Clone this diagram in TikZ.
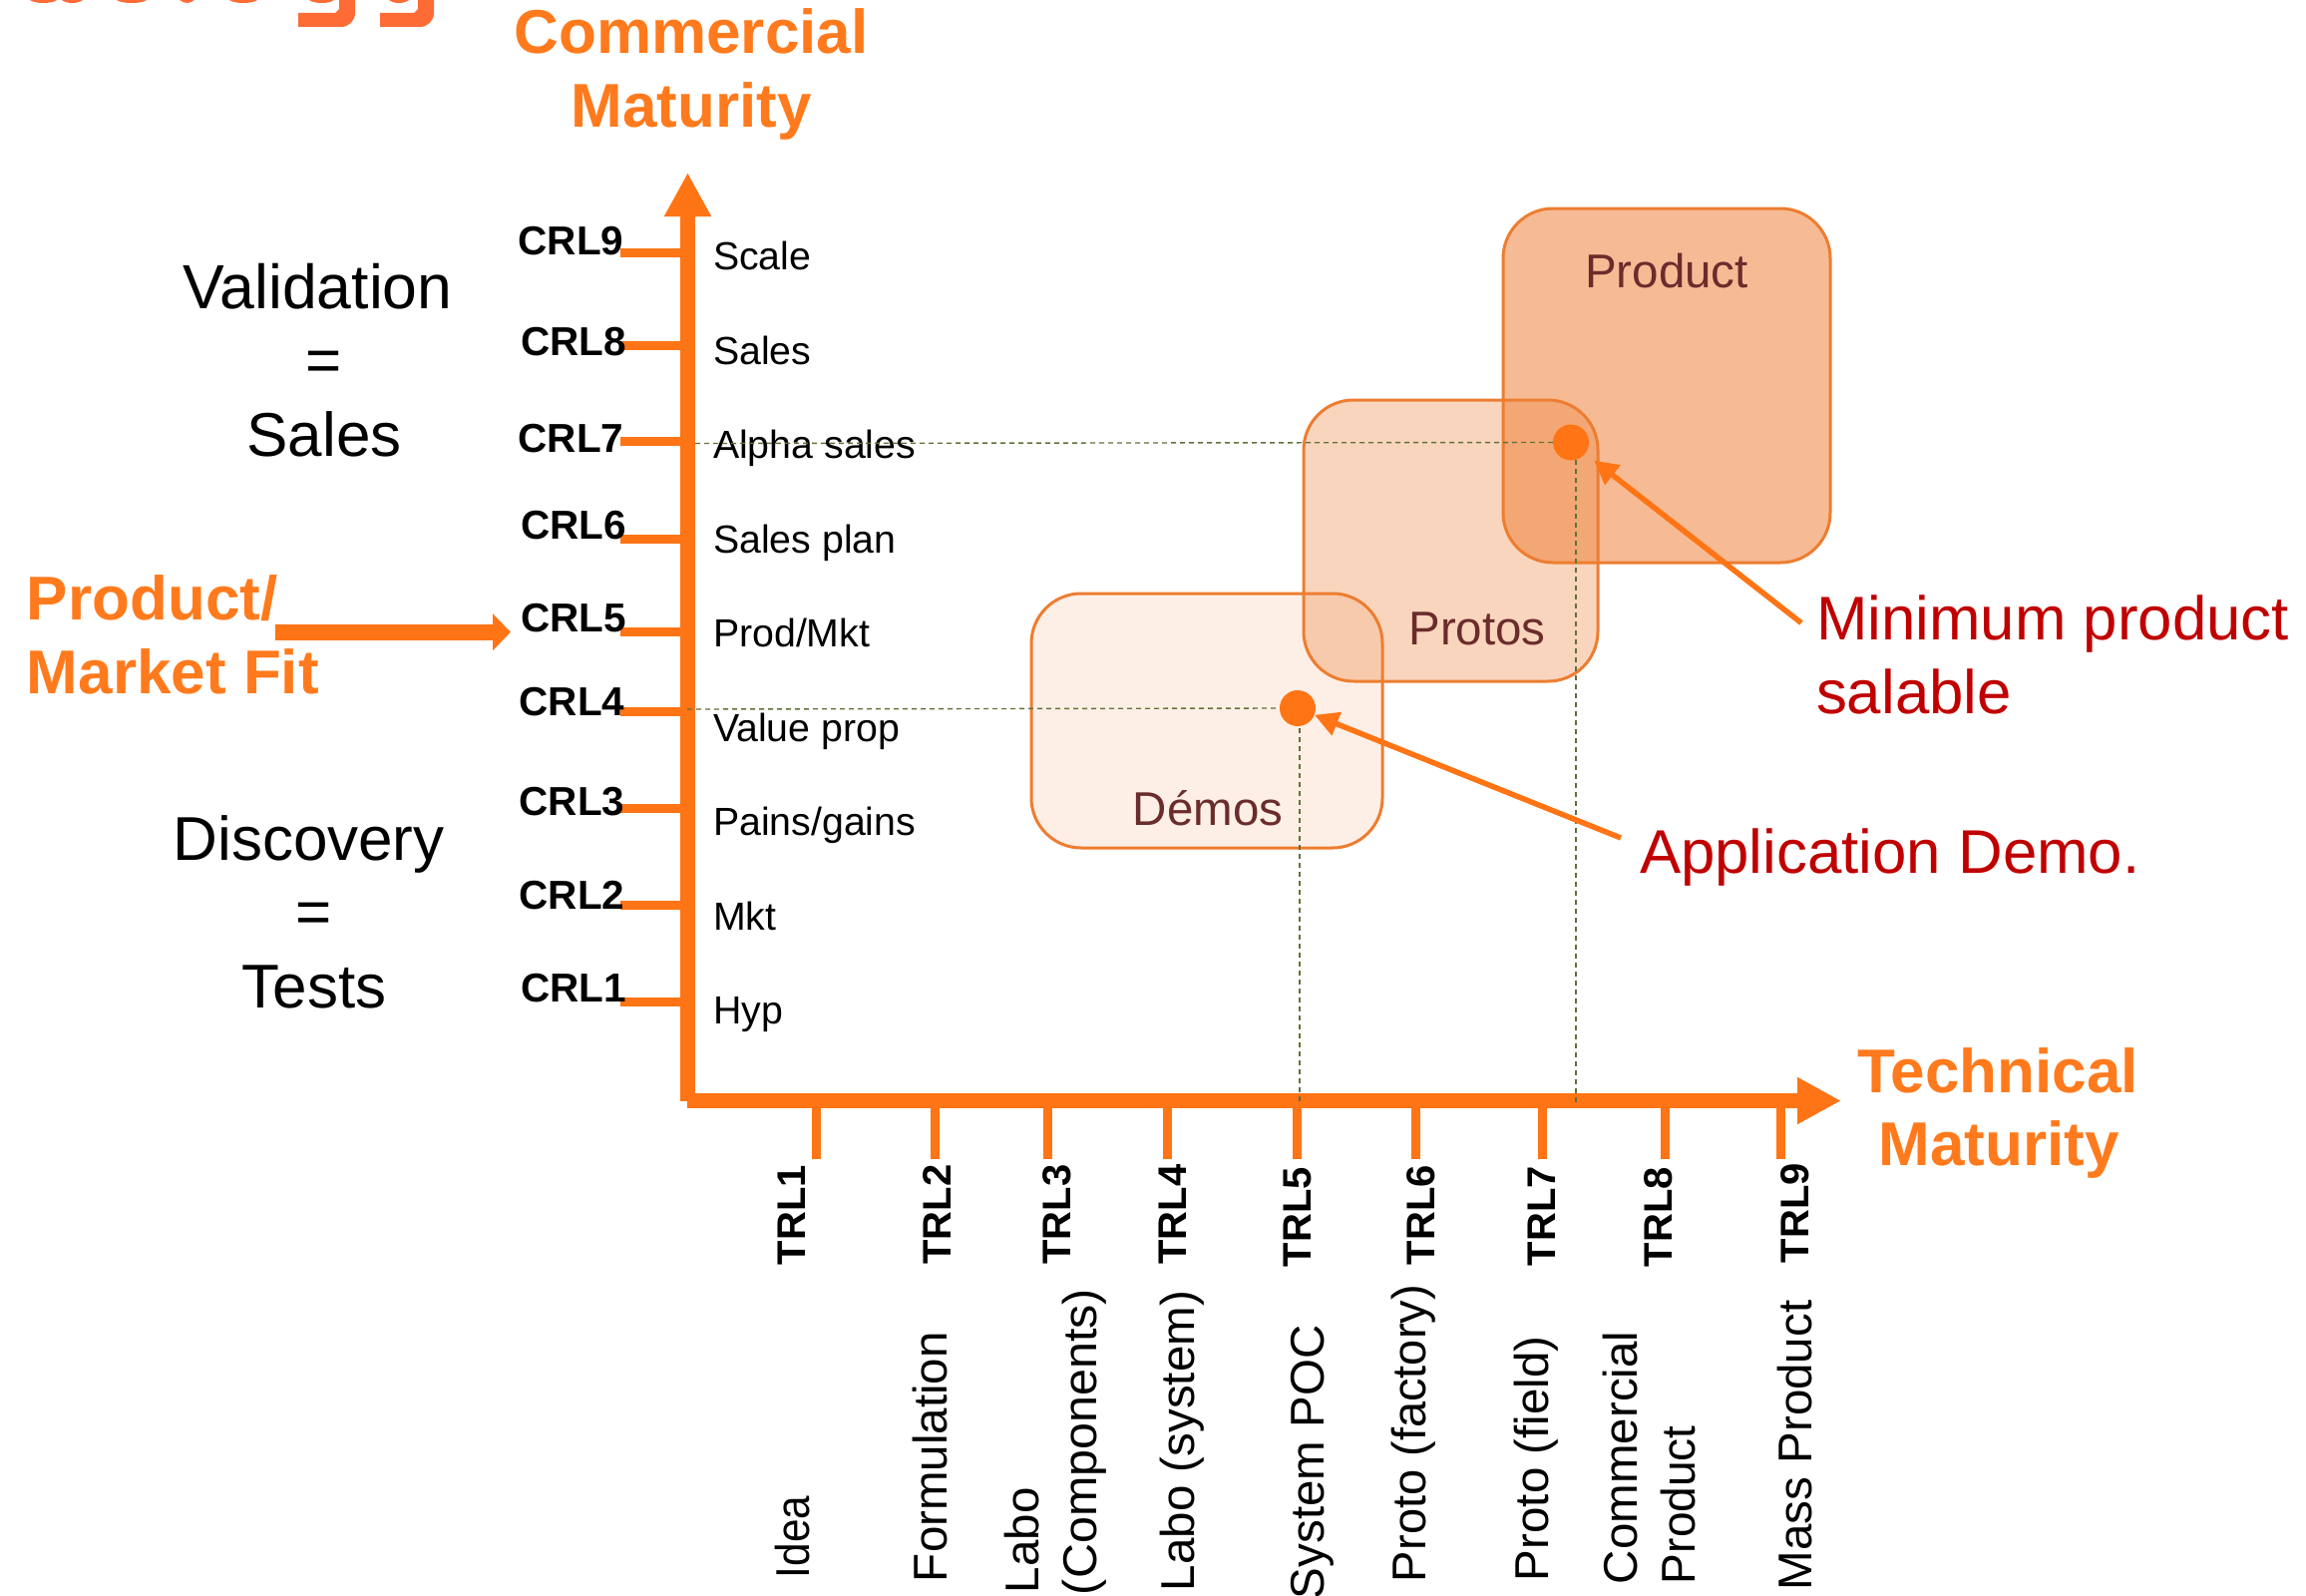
\documentclass[tikz,border=0pt]{standalone}
\usepackage{fontspec}
\setmainfont{Liberation Sans}
\usetikzlibrary{arrows.meta}
\definecolor{axisor}{HTML}{FF7415}
\definecolor{titleor}{HTML}{FF7A1C}
\definecolor{boxor}{HTML}{ED7D31}
\definecolor{logoor}{HTML}{FF6B35}
\definecolor{redtxt}{HTML}{C00000}
\definecolor{maroon}{HTML}{6B2C2C}
\definecolor{dashg}{HTML}{5F7238}
\newcommand{\fsz}[1]{\fontsize{#1}{#1}\selectfont}
\tikzset{
  txt/.style={inner sep=0pt,outer sep=0pt,anchor=base},
  txtl/.style={inner sep=0pt,outer sep=0pt,anchor=base west},
  bigor/.style={txt,font=\fsz{62}\bfseries,text=titleor},
  side/.style={txt,font=\fsz{62},text=black},
  crllab/.style={txt,font=\fsz{40.5}\bfseries,text=black},
  crlnote/.style={txtl,font=\fsz{39.3},text=black},
  trllab/.style={txtl,rotate=90,font=\fsz{40}\bfseries,text=black},
  trlnote/.style={txtl,rotate=90,font=\fsz{47.5},text=black},
  boxlab/.style={txt,font=\fsz{47.5},text=maroon},
  redlab/.style={txtl,font=\fsz{61.8},text=redtxt},
  zone/.style={draw=boxor,line width=3pt,fill=boxor,rounded corners=50pt},
  tick/.style={draw=axisor,line width=9pt},
  axisline/.style={draw=axisor,line width=14.5pt,-{Triangle[length=44pt,width=44pt]}},
  callout/.style={draw=axisor,line width=5.5pt,-{Triangle[length=24pt,width=24pt]}},
  guide/.style={draw=dashg,line width=1.4pt,dash pattern=on 5pt off 4pt},
  dot/.style={circle,fill=axisor,inner sep=0pt,minimum size=36pt}
}
\begin{document}
\begin{tikzpicture}[x=1pt,y=-1pt]
\useasboundingbox (0,0) rectangle (2312,1600);
\clip (0,0) rectangle (2312,1600);

% cut-off logo at the top
\fill[logoor] (299,13) -- (336,13) -- (340,9) -- (340,0) -- (356,0) -- (356,13) arc[start angle=0,end angle=90,radius=14] -- (299,27) -- cycle;
\fill[logoor] (381,13) -- (415,13) -- (419,9) -- (419,0) -- (435,0) -- (435,13) arc[start angle=0,end angle=90,radius=14] -- (381,27) -- cycle;
\foreach \a/\b in {30/57,62/83,117/147,180/195,230/258,310/335,390/410}{
  \fill[logoor] (\a,0) .. controls (\a+5,4) and (\b-5,4) .. (\b,0) -- cycle;
}

% zones
\path[zone,fill opacity=.12] (1034,595) rectangle (1386,850);
\path[zone,fill opacity=.32] (1307,401) rectangle (1602,683);
\path[zone,fill opacity=.52] (1507,209) rectangle (1835,564);
\node[boxlab] (lproduct) at (1671,288) {Product};
\node[boxlab] (lprotos) at (1481,646) {Protos};
\node[boxlab] (ldemos) at (1211,827) {Démos};

% axes
\coordinate (vbase) at (689.5,1104);
\coordinate (vtip) at (689.5,173);
\coordinate (hbase) at (689,1103.5);
\coordinate (htip) at (1846,1103.5);
\path[axisline] (vbase) -- (vtip);
\path[axisline] (hbase) -- (htip);

% CRL ticks and labels
\foreach \n/\ty/\by/\cx/\ny/\note in {
  9/253.6/255.5/572.5/270/Scale,
  8/346/356.5/575/365/Sales,
  7/442/453.5/572.5/459.5/Alpha sales,
  6/540/540.5/575/554/Sales plan,
  5/633/633/575/648/Prod\slash Mkt,
  4/713/717.5/573.5/743/Value prop,
  3/810/817/573.5/837/Pains\slash gains,
  2/907/911/573.5/932/Mkt,
  1/1004/1004/575/1026/Hyp}{
  \coordinate (ct\n) at (622,\ty);
  \coordinate (ca\n) at (689,\ty);
  \path[tick] (ct\n) -- (ca\n);
  \node[crllab] (crl\n) at (\cx,\by) {CRL\n};
  \node[crlnote] (cnote\n) at (715,\ny) {\note};
}

% TRL ticks and labels
\foreach \n/\tx/\bx/\by in {
  1/818/807/1268,
  2/937/953/1267.5,
  3/1050.5/1073/1267.5,
  4/1170/1189/1267.5,
  5/1300/1314/1270,
  6/1419.5/1438/1268,
  7/1546/1559/1269,
  8/1669/1676/1270,
  9/1785/1813/1266}{
  \coordinate (tt\n) at (\tx,1162);
  \coordinate (ta\n) at (\tx,1105);
  \path[tick] (ta\n) -- (tt\n);
  \node[trllab] (trl\n) at (\bx,\by) {TRL\n};
}
\node[trlnote,xscale=.89] (n1) at (811.7,1582) {Idea};
\node[trlnote] (n2) at (949,1586) {Formulation};
\node[trlnote] (n3a) at (1041,1597) {Labo};
\node[trlnote,xscale=1.02] (n3b) at (1099.4,1599) {(Components)};
\node[trlnote] (n4) at (1197,1595) {Labo (system)};
\node[trlnote] (n5) at (1327.5,1603) {System POC};
\node[trlnote,xscale=.99] (n6) at (1429,1586) {Proto (factory)};
\node[trlnote] (n7) at (1552,1585) {Proto (field)};
\node[trlnote] (n8a) at (1641,1588) {Commercial};
\node[trlnote,xscale=.97] (n8b) at (1699,1588) {Product};
\node[trlnote] (n9) at (1816,1594) {Mass Product};

% dots and guides
\node[dot] (dot2) at (1575,443.5) {};
\node[dot] (dot1) at (1301,710) {};
\coordinate (g2h) at (697,444.5);
\coordinate (g1h) at (689,711);
\coordinate (g2v) at (1580,1108);
\coordinate (g1v) at (1303,1108);
\path[guide] (g2h) -- (dot2.west);
\path[guide] (g1h) -- (dot1.west);
\path[guide] (1580,461) -- (g2v);
\path[guide] (1303,730) -- (g1v);

% titles
\node[bigor] (cm1) at (693,54) {Commercial};
\node[bigor] (cm2) at (693,128) {Maturity};
\node[bigor] (tm1) at (2003,1095) {Technical};
\node[bigor] (tm2) at (2004,1168.5) {Maturity};
\node[bigor,anchor=base west] (pm1) at (27,621) {Product/};
\node[bigor,anchor=base west] (pm2) at (27,695) {Market Fit};

% side notes
\node[side,font=\fsz{62.5}] (v1) at (318.5,309) {Validation};
\node[side] (v2) at (325,382) {=};
\node[side] (v3) at (325,457.5) {Sales};
\node[side] (d1) at (309.6,862.5) {Discovery};
\node[side] (d2) at (315,935) {=};
\node[side] (d3) at (315,1010) {Tests};

% product/market arrow
\coordinate (pma) at (275.5,633.7);
\coordinate (pmb) at (512,633.7);
\path[draw=axisor,line width=16pt,-{Triangle[length=18pt,width=36pt]}] (pma) -- (pmb);

% callouts
\node[redlab] (r1) at (1821,641) {Minimum product};
\node[redlab] (r2) at (1821,715) {salable};
\node[redlab] (r3) at (1644,875) {Application Demo.};
\coordinate (c1) at (1806,624.5);
\coordinate (c2) at (1625,840);
\path[callout,shorten >=11pt] (c1) -- (dot2);
\path[callout] (c2) -- (dot1);
\end{tikzpicture}
\end{document}
